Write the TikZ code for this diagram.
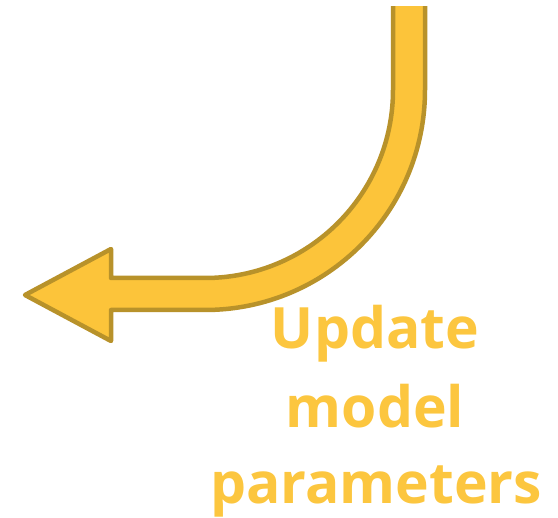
\documentclass[tikz,border=0pt]{standalone}
\usepackage{fontspec}
\setmainfont{Open Sans}
\definecolor{arrowfill}{HTML}{FCC43A}
\definecolor{arrowline}{HTML}{B8922A}
\definecolor{labelcol}{HTML}{FCC63F}
\begin{document}
\begin{tikzpicture}[x=1pt,y=-1pt,
  arrowshape/.style={fill=arrowfill,draw=arrowline,line width=4.5pt,line join=round},
  labeltext/.style={text=labelcol,font=\fontsize{57}{70}\selectfont\bfseries,anchor=base,inner sep=0pt}]
\useasboundingbox (0,0) rectangle (558,518);
\begin{scope}
\clip (0,7) rectangle (558,518);
\path[arrowshape] (425,0) -- (425,90) arc[start angle=0,end angle=90,radius=220]
  -- (111,310) -- (111,341) -- (25,295) -- (111,249) -- (111,278) -- (205,278)
  arc[start angle=90,end angle=0,radius=188] -- (393,0) -- cycle;
\end{scope}
\node[labeltext] (l1) at (375,349) {Update};
\node[labeltext] (l2) at (375,428) {model};
\node[labeltext] (l3) at (376,504) {parameters};
\end{tikzpicture}
\end{document}
